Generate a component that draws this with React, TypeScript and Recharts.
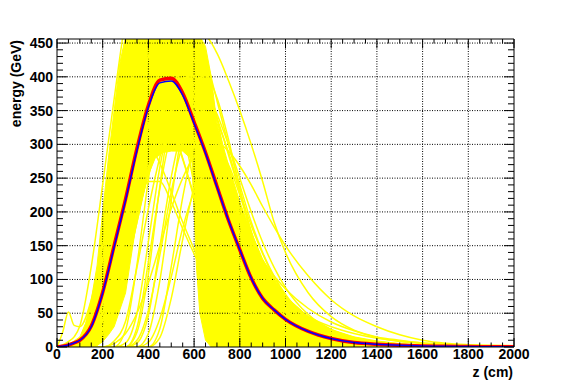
import { ComposedChart, Line, Area, XAxis, YAxis, ReferenceLine } from 'recharts'

// z grid (cm) shared by every profile
const Z = [0, 25, 50, 75, 100, 150, 200, 250, 300, 350, 400, 450, 500, 550, 600, 650, 700, 750, 800, 850, 900, 950, 1000, 1100, 1200, 1300, 1400, 1500, 1600, 1700, 1800, 1900, 2000]

// mean profiles (GeV)
const BLUE = [0, 1, 3, 6, 10, 30, 80, 148, 217, 291, 355, 391, 394, 373, 331, 287, 237, 188, 144, 102, 72, 55, 41, 23, 12.5, 6.5, 4, 2.5, 1.5, 1, 0.6, 0.4, 0.2]
const RED = [0, 1, 3, 6, 10, 31, 81, 150, 219, 294, 358, 395, 398, 376, 333, 288, 238, 188, 144, 102, 72, 55, 41, 23, 12.5, 6.5, 4, 2.5, 1.5, 1, 0.6, 0.4, 0.2]

// single showers (GeV)
const S01 = [0, 3, 8, 15, 31, 119, 241, 367, 484, 549, 544, 490, 412, 325, 241, 165, 106, 75, 53, 36, 25, 17, 11, 6, 3.2, 2, 1.4, 1, 0.6, 0.4, 0.2, 0.1, 0.1]
const S02 = [0, 22, 52, 32, 30, 70, 150, 245, 325, 375, 390, 372, 330, 278, 225, 176, 133, 98, 70, 50, 35, 24, 17, 8, 4, 2, 1, 0.6, 0.4, 0.2, 0.1, 0, 0]
// late starting showers
const S03 = [0, 0, 0, 0, 0, 0, 0, 0, 25, 122, 248, 353, 407, 412, 370, 298, 227, 160, 109, 71, 50, 32, 21, 9, 4, 1.5, 0.6, 0.3, 0.1, 0.1, 0, 0, 0]
const S04 = [0, 0, 0, 0, 0, 0, 0, 0, 6, 50, 156, 266, 342, 376, 361, 312, 243, 179, 125, 84, 57, 38, 25, 11, 4, 1.8, 0.7, 0.3, 0.1, 0.1, 0, 0, 0]
const S05 = [0, 0, 0, 0, 0, 0, 0, 0, 0, 22, 108, 238, 355, 428, 441, 405, 338, 257, 185, 126, 86, 58, 35, 17, 7, 3, 1.2, 0.5, 0.2, 0.1, 0, 0, 0]
const S06 = [0, 0, 0, 0, 0, 0, 0, 0, 0, 6, 47, 148, 252, 324, 356, 342, 295, 230, 169, 119, 79, 54, 36, 16, 7, 3, 1.2, 0.5, 0.2, 0.1, 0, 0, 0]
const S07 = [0, 0, 0, 0, 0, 0, 0, 0, 0, 0, 20, 98, 217, 324, 390, 402, 369, 308, 234, 168, 115, 78, 53, 24, 10, 4, 1.6, 0.7, 0.3, 0.1, 0, 0, 0]
const S08 = [0, 0, 0, 0, 0, 0, 0, 0, 0, 0, 0, 27, 119, 221, 299, 337, 330, 289, 231, 170, 119, 82, 54, 24, 10, 4, 1.7, 0.7, 0.3, 0.1, 0, 0, 0]
const S21 = [0, 0, 0, 0, 0, 0, 0, 0, 0, 0, 0, 14, 72, 159, 237, 285, 294, 270, 225, 171, 123, 84, 57, 23, 11, 4.5, 1.8, 0.8, 0.3, 0.1, 0, 0, 0]
const S22 = [0, 0, 0, 0, 0, 0, 0, 9, 38, 118, 205, 281, 342, 372, 372, 346, 308, 258, 205, 160, 122, 89, 65, 36, 19, 10, 4.6, 2.3, 1, 0.5, 0.2, 0.1, 0]
const S23 = [0, 0, 0, 0, 0, 0, 0, 0, 0, 10, 54, 136, 230, 299, 333, 331, 299, 252, 197, 146, 105, 75, 51, 24, 12, 5, 2.4, 1, 0.4, 0.2, 0.1, 0, 0]
const S24 = [0, 0, 0, 0, 0, 0, 0, 0, 0, 29, 126, 234, 317, 356, 349, 306, 245, 180, 126, 86, 58, 40, 25, 11, 4, 1.8, 0.7, 0.3, 0.1, 0, 0, 0, 0]
const S25 = [0, 0, 0, 0, 0, 0, 0, 0, 0, 0, 7, 42, 104, 176, 229, 255, 254, 229, 192, 151, 112, 81, 57, 27, 13, 6, 2.6, 1.2, 0.5, 0.2, 0.1, 0, 0]
// early, fast falling showers
const S09 = [0, 0, 1, 2, 5, 25, 80, 160, 240, 290, 298, 272, 230, 185, 145, 108, 78, 55, 38, 26, 17, 11, 7, 3, 1.2, 0.5, 0.2, 0.1, 0, 0, 0, 0, 0]
const S10 = [0, 0, 0, 1, 2, 12, 40, 95, 160, 215, 245, 245, 215, 175, 138, 104, 76, 54, 38, 26, 18, 12, 8, 3.5, 1.5, 0.6, 0.2, 0.1, 0, 0, 0, 0, 0]
const S11 = [0, 0, 1, 2, 4, 15, 50, 110, 185, 260, 315, 340, 325, 280, 220, 160, 112, 76, 50, 33, 22, 15, 10, 5, 2.5, 1.2, 0.6, 0.3, 0.1, 0, 0, 0, 0]
// long, late falling showers
const S12 = [0, 0, 0, 1, 2, 8, 25, 60, 115, 185, 260, 335, 395, 440, 462, 460, 435, 395, 350, 300, 245, 185, 140, 80, 45, 25, 14, 8, 5, 3, 1.5, 0.8, 0.5]
const S13 = [0, 0, 0, 0, 1, 5, 20, 55, 110, 185, 265, 330, 375, 398, 400, 380, 345, 300, 250, 200, 155, 118, 88, 48, 26, 14, 8, 4.5, 2.5, 1.5, 0.8, 0.5, 0.3]
const S14 = [0, 0, 0, 1, 3, 12, 40, 95, 170, 250, 330, 395, 430, 440, 425, 390, 340, 285, 230, 180, 138, 103, 76, 40, 21, 11, 6, 3.5, 2, 1.2, 0.7, 0.4, 0.2]
const S15 = [0, 0, 1, 2, 4, 15, 50, 110, 185, 260, 325, 365, 380, 372, 345, 305, 262, 222, 186, 155, 128, 105, 86, 57, 37, 24, 15, 10, 6, 4, 2.5, 1.5, 1]
const S16 = [0, 0, 0, 0, 0, 0, 0, 5, 20, 50, 95, 150, 205, 250, 282, 300, 302, 290, 268, 240, 208, 178, 150, 105, 70, 46, 30, 18, 10, 5.5, 3.5, 2.5, 2]
const S17 = [0, 0, 1, 3, 6, 22, 70, 140, 220, 300, 365, 405, 420, 410, 380, 335, 285, 235, 190, 150, 118, 90, 70, 45, 30, 20, 13, 9, 6, 4, 3, 2, 1.5]
const S18 = [0, 0, 1, 2, 5, 20, 65, 150, 250, 350, 430, 490, 518, 515, 485, 430, 365, 300, 240, 185, 140, 105, 78, 42, 22, 12, 6, 3.5, 2, 1.2, 0.7, 0.4, 0.2]
const S19 = [0, 1, 2, 5, 12, 45, 130, 240, 345, 425, 475, 478, 440, 375, 300, 228, 168, 120, 84, 58, 40, 28, 19, 9, 4, 2, 1, 0.5, 0.3, 0.2, 0.1, 0, 0]
const S20 = [0, 0, 0, 1, 2, 8, 28, 70, 130, 195, 255, 300, 325, 328, 310, 275, 232, 188, 148, 112, 84, 62, 45, 24, 12, 6, 3, 1.5, 0.8, 0.4, 0.2, 0.1, 0]
const SHOWERS = [S01, S02, S03, S04, S05, S06, S07, S08, S21, S22, S23, S24, S25, S09, S10, S11, S12, S13, S14, S15, S16, S17, S18, S19, S20]

// densely overlapping part of the bundle: lower / upper edge
const BAND_Z = [0, 50, 100, 125, 150, 175, 200, 225, 250, 275, 300, 350, 400, 430, 465, 500, 550, 590, 600, 610, 625, 650, 675, 700, 750, 800, 850, 900, 950, 1000, 1100, 1200, 1300, 1400, 1500, 1600, 1700, 1800, 1900, 2000]
const BAND_LO = [0, 0, 0, 0, 0, 2, 8, 18, 30, 55, 80, 190, 255, 280, 288, 290, 290, 278, 200, 120, 50, 10, 0, 0, 0, 0, 0, 0, 0, 0, 0, 0, 0, 0, 0, 0, 0, 0, 0, 0]
const BAND_HI = [0, 3, 15, 35, 70, 120, 200, 280, 350, 420, 460, 460, 460, 460, 460, 460, 460, 460, 460, 460, 460, 445, 400, 330, 270, 215, 170, 130, 100, 75, 45, 26, 15, 9, 5, 3, 1.8, 1, 0.6, 0.3]

const X_MAJOR = [0, 200, 400, 600, 800, 1000, 1200, 1400, 1600, 1800, 2000]
const Y_MAJOR = [0, 50, 100, 150, 200, 250, 300, 350, 400, 450]
const X_TICKS = Array.from({ length: 41 }, (_, i) => i * 50)
const Y_TICKS = Array.from({ length: 46 }, (_, i) => i * 10)

const FONT = "'Liberation Sans', Arial, Helvetica, sans-serif"
const AXIS = '#000'

const allZ = Array.from(new Set([...Z, ...BAND_Z])).sort((a, b) => a - b)
const rows = allZ.map(z => {
  const r: Record<string, any> = { z }
  const i = Z.indexOf(z)
  if (i >= 0) {
    SHOWERS.forEach((s, k) => { r['s' + k] = s[i] })
    r.red = RED[i]
    r.blue = BLUE[i]
  }
  const j = BAND_Z.indexOf(z)
  if (j >= 0) r.band = [BAND_LO[j], BAND_HI[j]]
  return r
})

// ── ticks drawn inside the frame, ROOT style
function BottomTick({ x, y, payload }: any) {
  const major = payload.value % 200 === 0
  return (
    <g>
      <line x1={x} x2={x} y1={y} y2={y - (major ? 9 : 4.5)} stroke={AXIS} />
      {major && (
        <text x={x} y={y + 12} textAnchor="middle" fontFamily={FONT} fontWeight="bold" fontSize={14} fill="#000">
          {payload.value}
        </text>
      )}
    </g>
  )
}
function TopTick({ x, y, payload }: any) {
  const major = payload.value % 200 === 0
  return <line x1={x} x2={x} y1={y} y2={y + (major ? 9 : 4.5)} stroke={AXIS} />
}
function LeftTick({ x, y, payload }: any) {
  const major = payload.value % 50 === 0
  return (
    <g>
      <line x1={x} x2={x + (major ? 10 : 6)} y1={y} y2={y} stroke={AXIS} />
      {major && (
        <text x={x - 4} y={y + 5} textAnchor="end" fontFamily={FONT} fontWeight="bold" fontSize={14} fill="#000">
          {payload.value}
        </text>
      )}
    </g>
  )
}
function RightTick({ x, y, payload }: any) {
  const major = payload.value % 50 === 0
  return <line x1={x} x2={x - (major ? 10 : 6)} y1={y} y2={y} stroke={AXIS} />
}

export default function App() {
  return (
    <div style={{ position: 'relative', width: 572, height: 387, background: '#fff' }}>
      <style>{'body{margin:0}'}</style>
      <ComposedChart width={572} height={387} data={rows} margin={{ top: 29, right: 48, bottom: 10, left: 17 }}>
        <XAxis dataKey="z" type="number" domain={[0, 2000]} ticks={X_TICKS} interval={0}
          height={30} tickSize={0} tickMargin={0} tickLine={false} axisLine={{ stroke: AXIS }} tick={<BottomTick />} />
        <XAxis xAxisId="top" orientation="top" dataKey="z" type="number" domain={[0, 2000]} ticks={X_TICKS} interval={0}
          height={10} tickSize={0} tickMargin={0} tickLine={false} axisLine={{ stroke: AXIS }} tick={<TopTick />} />
        <YAxis type="number" domain={[0, 456]} allowDataOverflow ticks={Y_TICKS} interval={0}
          width={40} tickSize={0} tickMargin={0} tickLine={false} axisLine={{ stroke: AXIS }} tick={<LeftTick />} />
        <YAxis yAxisId="right" orientation="right" type="number" domain={[0, 456]} allowDataOverflow ticks={Y_TICKS} interval={0}
          width={10} tickSize={0} tickMargin={0} tickLine={false} axisLine={{ stroke: AXIS }} tick={<RightTick />} />

        {X_MAJOR.slice(1, -1).map(v => (
          <ReferenceLine key={'gx' + v} x={v} stroke="#000" strokeDasharray="1 1.5" />
        ))}
        {Y_MAJOR.slice(1).map(v => (
          <ReferenceLine key={'gy' + v} y={v} stroke="#000" strokeDasharray="1 1.5" />
        ))}

        <Area dataKey="band" type="linear" stroke="#ffff00" strokeWidth={1} fill="#ffff00" fillOpacity={1}
          connectNulls dot={false} activeDot={false} isAnimationActive={false} />
        {SHOWERS.map((_, k) => (
          <Line key={k} dataKey={'s' + k} type="monotone" stroke="#ffff00" strokeWidth={1.5}
            connectNulls dot={false} activeDot={false} isAnimationActive={false} />
        ))}
        <Line dataKey="red" type="monotone" stroke="#ff0000" strokeWidth={3.5}
          connectNulls dot={false} activeDot={false} isAnimationActive={false} />
        <Line dataKey="blue" type="monotone" stroke="#0000ff" strokeWidth={1.5}
          connectNulls dot={false} activeDot={false} isAnimationActive={false} />
      </ComposedChart>
      <svg width={572} height={387} style={{ position: 'absolute', left: 0, top: 0, pointerEvents: 'none' }}>
        <text x={513} y={377} textAnchor="end" fontFamily={FONT} fontWeight="bold" fontSize={14} fill="#000">z (cm)</text>
        <text transform="rotate(-90)" x={-40} y={21} textAnchor="end" fontFamily={FONT} fontWeight="bold" fontSize={14} fill="#000">
          energy (GeV)
        </text>
      </svg>
    </div>
  )
}
